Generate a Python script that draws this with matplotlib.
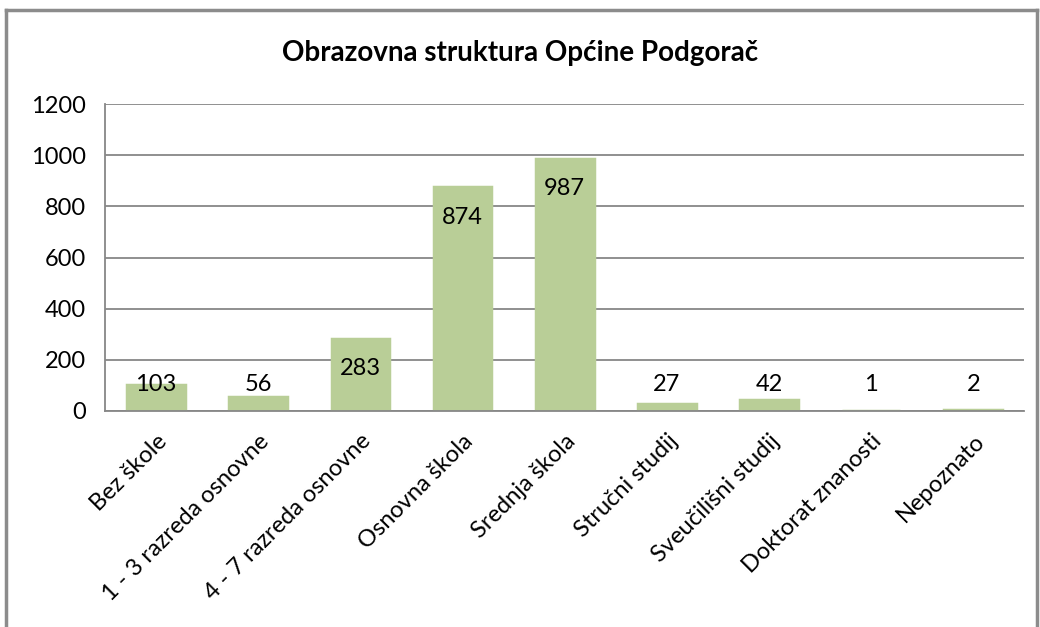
import numpy as np
import matplotlib
matplotlib.use("Agg")
import matplotlib.pyplot as plt
from matplotlib.lines import Line2D

plt.rcParams['font.family'] = ['Lato', 'DejaVu Sans']

categories = ['Bez škole', '1 - 3 razreda osnovne', '4 - 7 razreda osnovne',
              'Osnovna škola', 'Srednja škola', 'Stručni studij',
              'Sveučilišni studij', 'Doktorat znanosti', 'Nepoznato']
values = [103, 56, 283, 874, 987, 27, 42, 1, 2]
yticks = [0, 200, 400, 600, 800, 1000, 1200]

fig = plt.figure(figsize=(10.4, 6.27), dpi=100)
ax = fig.add_axes([0.101, 0.3445, 0.884, 0.4895])

x = np.arange(len(categories))
bar_c = '#B9CE97'
ax.bar(x, values, width=0.565, color=bar_c, edgecolor=bar_c, linewidth=2.5, zorder=2)

ax.set_ylim(0, 1200)
ax.set_xlim(-0.5, len(categories) - 0.5)
ax.set_yticks(yticks)
ax.set_yticklabels([str(t) for t in yticks], fontsize=17)
ax.yaxis.grid(True, color='#878787', linewidth=1.3, zorder=0)
ax.set_axisbelow(True)

ax.set_xticks(x)
ax.set_xticklabels(categories, rotation=45, ha='right', rotation_mode='anchor', fontsize=17)
ax.tick_params(axis='y', length=0, pad=14)
ax.tick_params(axis='x', length=0, pad=14)

for s in ['top', 'right']:
    ax.spines[s].set_visible(False)
ax.spines['left'].set_color('#878787')
ax.spines['bottom'].set_color('#878787')
ax.spines['left'].set_linewidth(1.3)
ax.spines['bottom'].set_linewidth(1.3)

# data labels: inside the end for tall bars, lifted above short ones
for xi, v in zip(x, values):
    ly = max(v - 117, 102)
    ax.text(xi, ly, str(v), ha='center', va='center', fontsize=17, color='black', zorder=3)

fig.text(0.5, 0.915, 'Obrazovna struktura Općine Podgorač', ha='center', va='center',
         fontsize=20, fontweight='bold')

# outer chart frame
frame_c = '#8C8C8C'
fig.add_artist(Line2D([0.006, 0.006], [0.0, 0.984], color=frame_c, linewidth=2.5, transform=fig.transFigure))
fig.add_artist(Line2D([0.006, 0.997], [0.984, 0.984], color=frame_c, linewidth=2.5, transform=fig.transFigure))
fig.add_artist(Line2D([0.997, 0.997], [0.0, 0.984], color=frame_c, linewidth=2.5, transform=fig.transFigure))

fig.savefig('out.png', dpi=100)
